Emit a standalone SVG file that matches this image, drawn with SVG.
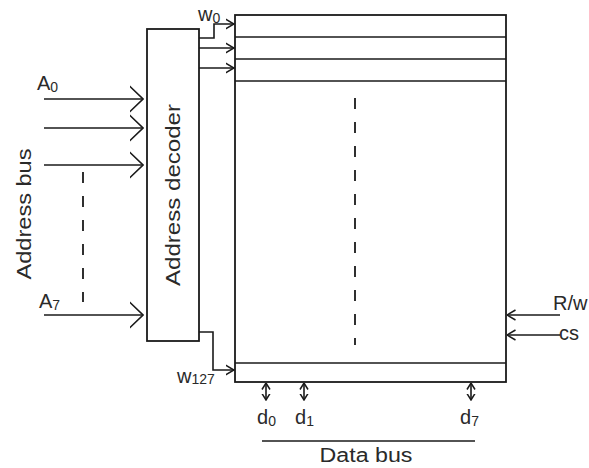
<svg xmlns="http://www.w3.org/2000/svg" width="589" height="468" viewBox="0 0 589 468">
<defs>
<style>
.ln{stroke:#1a1a1a;stroke-width:1.6;fill:none}
.box{stroke:#1a1a1a;stroke-width:1.8;fill:#fff}
.dash{stroke:#1a1a1a;stroke-width:1.8;fill:none;stroke-dasharray:11 13}
.t{font-family:"Liberation Sans",Arial,sans-serif;fill:#2a2a2a;font-size:20px}
.s{font-size:14px}
</style>
<marker id="big" markerUnits="userSpaceOnUse" viewBox="0 0 14 28" refX="13.5" refY="14" markerWidth="14" markerHeight="28" orient="auto"><path d="M0,1 L13.5,14 L0,27" fill="none" stroke="#1a1a1a" stroke-width="1.6"/></marker>
<marker id="sm" markerUnits="userSpaceOnUse" viewBox="0 0 9 12" refX="8.5" refY="6" markerWidth="9" markerHeight="12" orient="auto"><path d="M0,1 L8.5,6 L0,11" fill="none" stroke="#1a1a1a" stroke-width="1.5"/></marker>
<marker id="dsm" markerUnits="userSpaceOnUse" viewBox="0 0 7 10" refX="6.5" refY="5" markerWidth="7" markerHeight="10" orient="auto-start-reverse"><path d="M0,1 L6.5,5 L0,9" fill="none" stroke="#1a1a1a" stroke-width="1.5"/></marker>
</defs>
<rect width="589" height="468" fill="#fff"/>

<g id="memory">
<rect class="box" x="235" y="15" width="271" height="367"/>
<line class="ln" x1="235" y1="37" x2="506" y2="37"/>
<line class="ln" x1="235" y1="59" x2="506" y2="59"/>
<line class="ln" x1="235" y1="81" x2="506" y2="81"/>
<line class="ln" x1="235" y1="363" x2="506" y2="363"/>
<line class="dash" x1="355" y1="98" x2="355" y2="345"/>
</g>

<g id="decoder">
<rect class="box" x="147" y="29" width="52" height="312"/>
<text class="t" transform="translate(180,195) rotate(-90)" text-anchor="middle" textLength="182" lengthAdjust="spacingAndGlyphs">Address decoder</text>
</g>

<g id="address-bus">
<text class="t" transform="translate(31,214) rotate(-90)" text-anchor="middle" textLength="131" lengthAdjust="spacingAndGlyphs">Address bus</text>
<text class="t" x="37" y="90">A<tspan class="s" dy="2">0</tspan></text>
<text class="t" x="39" y="308">A<tspan class="s" dy="2">7</tspan></text>
<line class="dash" x1="83" y1="172" x2="83" y2="302"/>
</g>

<g id="data-bus">
<text class="t" x="257" y="424">d<tspan class="s" dy="2">0</tspan></text>
<text class="t" x="295" y="424">d<tspan class="s" dy="2">1</tspan></text>
<text class="t" x="460" y="424">d<tspan class="s" dy="2">7</tspan></text>
<line class="ln" x1="262" y1="441" x2="475" y2="441"/>
<text class="t" x="366" y="462" text-anchor="middle" textLength="93" lengthAdjust="spacingAndGlyphs">Data bus</text>
</g>

<g id="control">
<text class="t" x="553" y="310">R/w</text>
<text class="t" x="559" y="340">cs</text>
</g>

<g id="word-labels">
<text class="t" x="198" y="21">w<tspan class="s" dy="2">0</tspan></text>
<text class="t" x="177" y="383">w<tspan class="s" dy="1">127</tspan></text>
</g>

<g id="connectors">
<line class="ln" x1="44" y1="99" x2="143" y2="99" marker-end="url(#big)"/>
<line class="ln" x1="44" y1="128" x2="143" y2="128" marker-end="url(#big)"/>
<line class="ln" x1="44" y1="165" x2="143" y2="165" marker-end="url(#big)"/>
<line class="ln" x1="44" y1="315" x2="143" y2="315" marker-end="url(#big)"/>
<path class="ln" d="M199,38 H214 V24 H234" marker-end="url(#sm)"/>
<line class="ln" x1="199" y1="48" x2="234" y2="48" marker-end="url(#sm)"/>
<line class="ln" x1="199" y1="68" x2="234" y2="68" marker-end="url(#sm)"/>
<path class="ln" d="M199,332 H213 V370 H234" marker-end="url(#sm)"/>
<line class="ln" x1="560" y1="315" x2="507" y2="315" marker-end="url(#sm)"/>
<line class="ln" x1="560" y1="335" x2="507" y2="335" marker-end="url(#sm)"/>
<line class="ln" x1="266" y1="383" x2="266" y2="400" marker-start="url(#dsm)" marker-end="url(#dsm)"/>
<line class="ln" x1="304" y1="383" x2="304" y2="400" marker-start="url(#dsm)" marker-end="url(#dsm)"/>
<line class="ln" x1="471" y1="383" x2="471" y2="400" marker-start="url(#dsm)" marker-end="url(#dsm)"/>
</g>
</svg>
